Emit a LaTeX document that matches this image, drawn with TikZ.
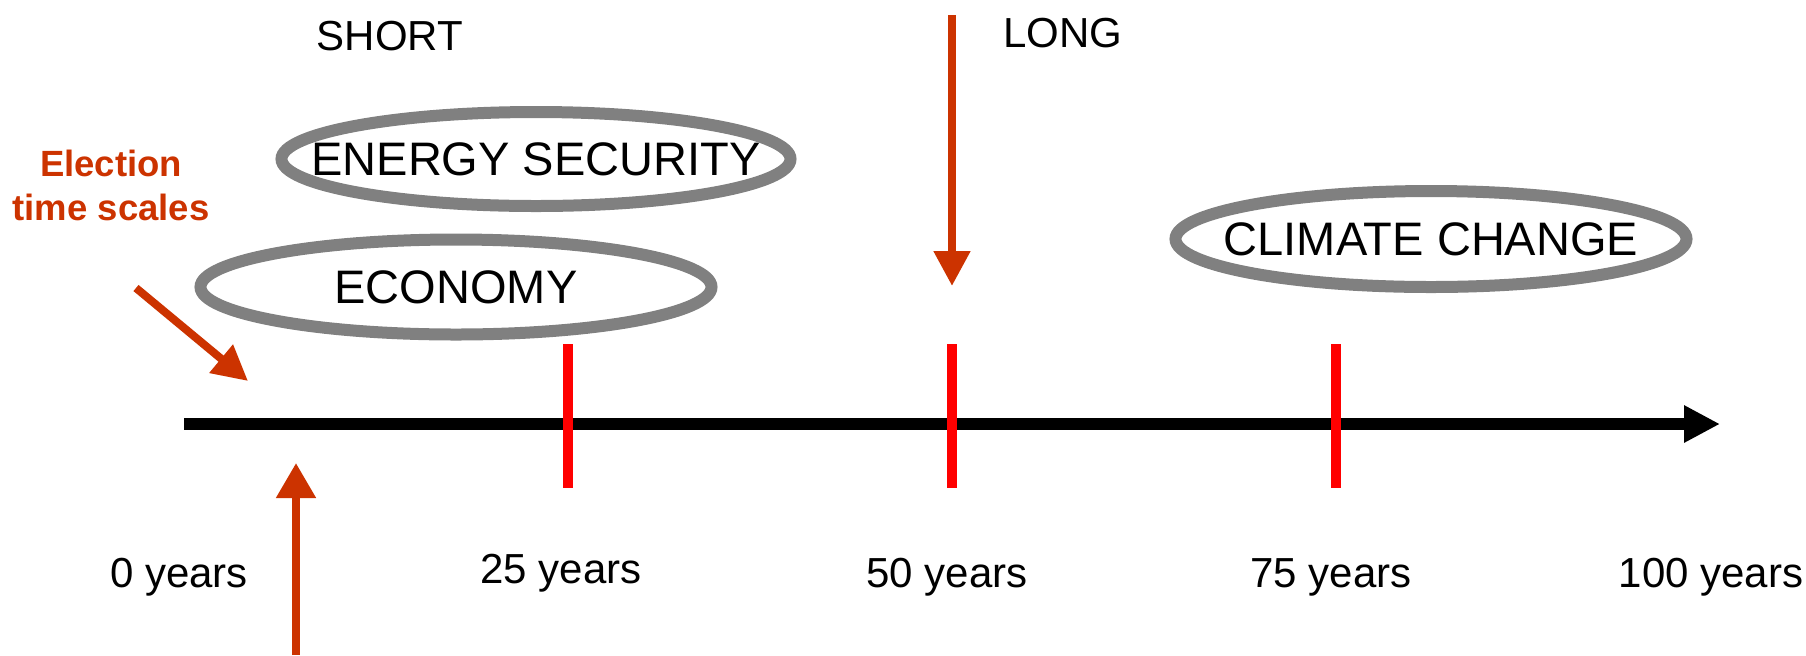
\documentclass[tikz,border=0pt]{standalone}
\usepackage{fontspec}
\setmainfont{Liberation Sans}
\usetikzlibrary{arrows.meta}
\definecolor{rust}{HTML}{CC3300}
\definecolor{ringgray}{HTML}{808080}
\definecolor{tickred}{HTML}{FF0000}
\tikzset{
  lbl/.style={font=\fontsize{21pt}{25pt}\selectfont, inner sep=0pt, anchor=base},
  topic/.style={inner sep=0pt, font=\fontsize{23.5pt}{28pt}\selectfont},
  ring/.style={draw=ringgray, line width=6pt},
  tickmark/.style={draw=tickred, line width=5pt},
  pointer/.style={draw=rust, line width=4pt, -{Triangle[length=17.5pt,width=17.5pt]}},
  axisline/.style={draw=black, line width=6pt, -{Triangle[length=18pt,width=17.5pt]}}
}
\begin{document}
\begin{tikzpicture}[x=0.5pt,y=-0.5pt]
\useasboundingbox (0,0) rectangle (1806,655);

% time axis
\coordinate (a0) at (184,424);
\coordinate (a100) at (1720,424);
\draw[axisline] (a0) -- (a100);

% tick marks at 25, 50, 75 years
\foreach \k/\x in {25/568,50/952,75/1336}{
  \coordinate (t\k top) at (\x,344);
  \coordinate (t\k bot) at (\x,488);
  \draw[tickmark] (t\k top) -- (t\k bot);
}

% year labels
\node[lbl] (y0)   at (179,587) {0 years};
\node[lbl] (y25)  at (561,583) {25 years};
\node[lbl] (y50)  at (947,587) {50 years};
\node[lbl] (y75)  at (1331,587) {75 years};
\node[lbl] (y100) at (1711,587) {100 years};

% horizon labels
\node[lbl] (short) at (390,50) {SHORT};
\node[lbl] (long)  at (1063,47) {LONG};

% policy topics, each ringed by an ellipse
\node[topic] (energy)  at (536,159) {ENERGY SECURITY};
\node[topic] (economy) at (456,287) {ECONOMY};
\node[topic] (climate) at (1431,239) {CLIMATE CHANGE};
\draw[ring] (energy.center)  ellipse [x radius=127.25pt, y radius=23.5pt];
\draw[ring] (economy.center) ellipse [x radius=127.75pt, y radius=23.75pt];
\draw[ring] (climate.center) ellipse [x radius=127.75pt, y radius=24pt];

% election time scales
\node[align=center, inner sep=0pt, text=rust,
  font=\bfseries\fontsize{18.25pt}{22pt}\selectfont] (election) at (111,185)
  {Election\\time scales};
\coordinate (eFrom) at (136,288);
\coordinate (eTo) at (248,381);
\draw[pointer] (eFrom) -- (eTo);

% long-horizon marker
\coordinate (lFrom) at (952,15);
\coordinate (lTo) at (952,286);
\draw[pointer] (lFrom) -- (lTo);

% election horizon marker from below
\coordinate (bFrom) at (296,655);
\coordinate (bTo) at (296,463);
\draw[draw=rust, line width=4pt, -{Triangle[length=17.5pt,width=19pt]}] (bFrom) -- (bTo);
\end{tikzpicture}
\end{document}
